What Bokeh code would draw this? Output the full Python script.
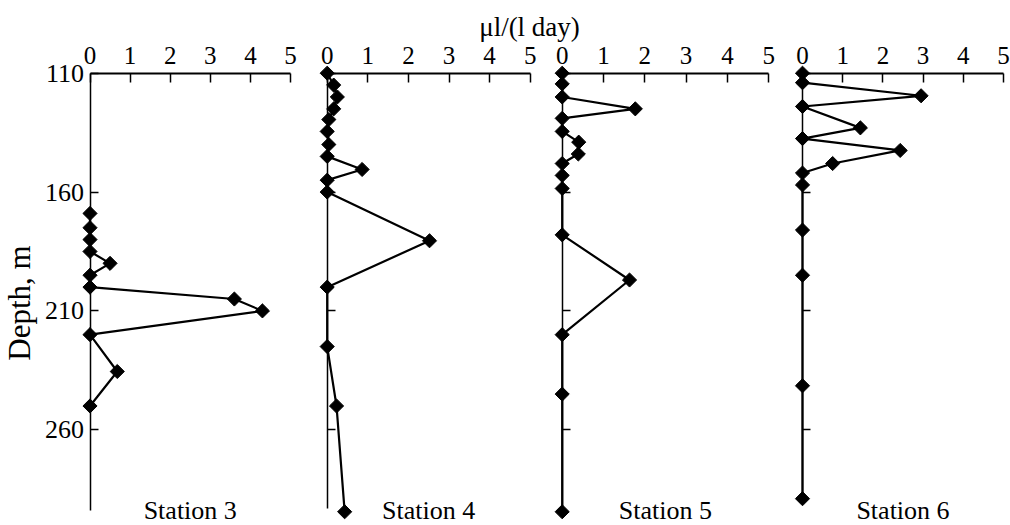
import numpy as np
from bokeh.plotting import figure
from bokeh.models import Range1d, LinearAxis, FixedTicker, Label
from bokeh.embed import file_html
from bokeh.resources import INLINE

# ---------------- data ----------------
x_ticks = [0, 1, 2, 3, 4, 5]
depth_ticks = [110, 160, 210, 260]
unit_label = "μl/(l day)"
depth_label = "Depth, m"
stations = ["Station 3", "Station 4", "Station 5", "Station 6"]

st3_depth = [169, 175, 180, 185, 190, 195, 200, 205, 210, 220, 235.5, 250]
st3_val = [0, 0, 0, 0, 0.5, 0, 0, 3.6, 4.3, 0, 0.68, 0]

st4_depth = [110, 115, 120, 125, 129.5, 134.5, 140, 145, 150.5, 155, 160, 180.5, 200, 225, 250, 294.5]
st4_val = [0, 0.16, 0.25, 0.16, 0.04, 0, 0.04, 0, 0.86, 0, 0, 2.52, 0, 0, 0.23, 0.43]

st5_depth = [110, 114.5, 120, 125, 129, 134.5, 139, 144, 148, 153, 158.5, 178, 197, 220, 245, 294.5]
st5_val = [0, 0, 0, 1.77, 0, 0, 0.4, 0.39, 0, 0, 0, 0, 1.63, 0, 0, 0]

st6_depth = [110, 114, 119.5, 124, 133, 137.5, 142.5, 148, 152, 157, 176, 195, 241.5, 289]
st6_val = [0, 0, 2.95, 0, 1.44, 0, 2.43, 0.75, 0, 0, 0, 0, 0, 0]

axis_end_depth = [294, 293, 294.3, 288.5]

# ---------------- layout ----------------
W, H = 1010, 525
FONT = "Liberation Serif"
panel_x0 = [89.5, 326.7, 561.7, 802.0]    # canvas px where value 0 sits
panel_unit = [40.1, 40.6, 41.3, 40.2]     # px per unit
top_px = 72.7                             # canvas px of depth 110
px_per_m = 2.377

y_bottom = 110 + (H - top_px) / px_per_m
y_top = 110 - top_px / px_per_m

p = figure(width=W, height=H, x_range=Range1d(0, W),
           y_range=Range1d(start=y_bottom, end=y_top),
           x_axis_type=None, y_axis_type=None,
           toolbar_location=None, output_backend="svg",
           min_border=0, outline_line_color=None,
           background_fill_color="white", border_fill_color="white")

series = [(st3_depth, st3_val), (st4_depth, st4_val),
          (st5_depth, st5_val), (st6_depth, st6_val)]

ranges = {}
for i in range(4):
    x0, u = panel_x0[i], panel_unit[i]
    ranges[f"s{i}"] = Range1d(-x0 / u, (W - x0) / u)
p.extra_x_ranges = ranges

for i, (dep, val) in enumerate(series):
    rn = f"s{i}"
    top = LinearAxis(x_range_name=rn, fixed_location=110, bounds=(0, 5),
                     ticker=FixedTicker(ticks=x_ticks),
                     major_tick_in=9, major_tick_out=0,
                     minor_tick_in=0, minor_tick_out=0,
                     axis_line_width=2, major_tick_line_width=1.5,
                     axis_line_color="black", major_tick_line_color="black",
                     major_label_text_font=FONT, major_label_text_font_size="25px",
                     major_label_text_color="black", major_label_standoff=9)
    p.add_layout(top, "above")

    left = LinearAxis(x_range_name=rn, fixed_location=0,
                      bounds=(110, axis_end_depth[i]),
                      ticker=FixedTicker(ticks=depth_ticks),
                      major_tick_in=8, major_tick_out=0,
                      minor_tick_in=0, minor_tick_out=0,
                      axis_line_width=1.5, major_tick_line_width=1.5,
                      axis_line_color="black", major_tick_line_color="black",
                      major_label_text_font=FONT, major_label_text_font_size="26px",
                      major_label_text_color="black", major_label_standoff=6)
    if i > 0:
        left.major_label_overrides = {t: "" for t in depth_ticks}
    p.add_layout(left, "left")

    p.line(x=val, y=dep, x_range_name=rn, line_color="black", line_width=2.2)
    p.scatter(x=val, y=dep, x_range_name=rn, marker="square", size=10,
              angle=np.pi / 4, fill_color="black", line_color="black")

    p.add_layout(Label(x=2.5, y=H - 509.5, x_range_name=rn, y_units="screen",
                       text=stations[i], text_align="center",
                       text_baseline="middle", text_font=FONT,
                       text_font_size="26px", text_color="black"))

p.add_layout(Label(x=529, y=H - 26, x_units="screen", y_units="screen",
                   text=unit_label, text_align="center", text_baseline="middle",
                   text_font=FONT, text_font_size="27px", text_color="black"))

p.add_layout(Label(x=18.5, y=H - 302.5, x_units="screen", y_units="screen",
                   text=depth_label, angle=np.pi / 2, text_align="center",
                   text_baseline="middle", text_font=FONT,
                   text_font_size="31px", text_color="black"))

open("out.html", "w").write(file_html(p, INLINE))
